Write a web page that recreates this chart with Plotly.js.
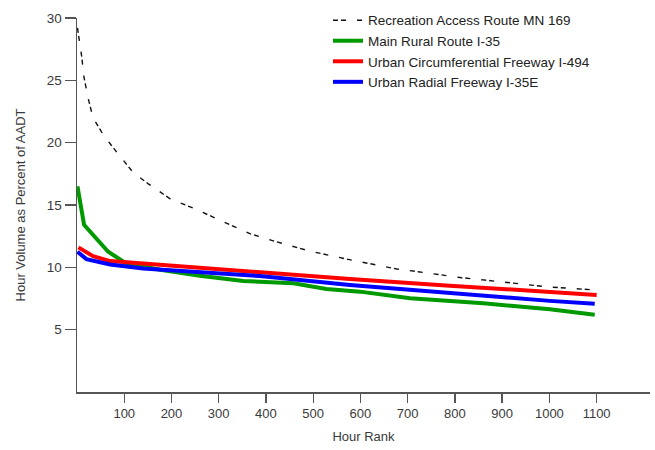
<!DOCTYPE html>
<html>
<head>
<meta charset="utf-8">
<script src="https://cdn.plot.ly/plotly-3.0.1.min.js"></script>
<style>html,body{margin:0;padding:0;background:#fff;}#chart{width:655px;height:450px;}</style>
</head>
<body>
<div id="chart"></div>
<script>
// Series names
const seriesNames = [
  "Recreation Access Route MN 169",
  "Main Rural Route I-35",
  "Urban Circumferential Freeway I-494",
  "Urban Radial Freeway I-35E"
];

// Recreation Access Route MN 169 (dashed)
const recX = [1, 10, 15, 24, 34, 56, 87, 119, 151, 197, 246, 296, 366, 423, 493, 585, 631, 677, 722, 768, 814, 860, 906, 952, 997, 1043, 1093];
const recY = [29.2, 26.9, 25.2, 23.5, 22.0, 20.6, 19.1, 17.6, 16.7, 15.5, 14.75, 13.9, 12.7, 12.04, 11.3, 10.55, 10.2, 9.87, 9.65, 9.38, 9.17, 8.99, 8.8, 8.64, 8.43, 8.32, 8.19];

// Main Rural Route I-35
const ruralX = [1, 15, 66, 105, 176, 260, 352, 458, 528, 599, 705, 860, 1001, 1096];
const ruralY = [16.5, 13.4, 11.25, 10.3, 9.8, 9.33, 8.9, 8.72, 8.27, 8.05, 7.52, 7.12, 6.64, 6.19];

// Urban Circumferential Freeway I-494
const circX = [3, 34, 70, 105, 246, 387, 578, 789, 1001, 1100];
const circY = [11.6, 10.9, 10.5, 10.4, 9.97, 9.6, 9.07, 8.53, 8.05, 7.79];

// Urban Radial Freeway I-35E
const radX = [1, 20, 70, 140, 246, 387, 578, 789, 1001, 1096];
const radY = [11.25, 10.66, 10.23, 9.9, 9.65, 9.3, 8.59, 7.92, 7.31, 7.07];

// Tick values / labels
const xTicks = [100, 200, 300, 400, 500, 600, 700, 800, 900, 1000, 1100];
const yTicks = [5, 10, 15, 20, 25, 30];

const FONT = "'Liberation Sans Narrow', 'Arial Narrow', 'Liberation Sans', Arial, sans-serif";
const TXT = "#3a3a3a";

const traces = [
  {x: recX, y: recY, name: seriesNames[0], mode: "lines", legendgroup: "a",
   line: {color: "#111111", width: 1.4, dash: "5px,3px,5px,11px"}},
  {x: ruralX, y: ruralY, name: seriesNames[1], mode: "lines", legendgroup: "b",
   line: {color: "#009a00", width: 4}},
  {x: circX, y: circY, name: seriesNames[2], mode: "lines", legendgroup: "c",
   line: {color: "#ff0000", width: 4}},
  {x: radX, y: radY, name: seriesNames[3], mode: "lines", legendgroup: "d",
   line: {color: "#0000ff", width: 4}}
];

const layout = {
  width: 655, height: 450,
  margin: {l: 77, r: 5, t: 15, b: 58},
  paper_bgcolor: "#ffffff", plot_bgcolor: "#ffffff",
  font: {family: FONT, size: 12, color: TXT},
  showlegend: true,
  legend: {
    x: 0.438, y: 1.035, xanchor: "left", yanchor: "top",
    bgcolor: "rgba(0,0,0,0)", borderwidth: 0,
    font: {family: FONT, size: 13.5, color: "#222"},
    tracegroupgap: 0
  },
  xaxis: {
    range: [0, 1213], tickvals: xTicks, ticktext: xTicks.map(String),
    showgrid: false, zeroline: false,
    showline: true, linecolor: "#555555", linewidth: 1.5,
    ticks: "outside", ticklen: 9, tickwidth: 1.3, tickcolor: "#555555",
    tickfont: {family: FONT, size: 13, color: TXT},
    title: {text: "Hour Rank", font: {family: FONT, size: 13, color: TXT}, standoff: 12},
    automargin: false
  },
  yaxis: {
    range: [0, 30], tickvals: yTicks, ticktext: yTicks.map(String),
    showgrid: false, zeroline: false,
    showline: true, linecolor: "#555555", linewidth: 1.5,
    ticks: "outside", ticklen: 11, tickwidth: 1.3, tickcolor: "#555555",
    tickfont: {family: FONT, size: 13.5, color: TXT},
    title: {text: "Hour Volume as Percent of AADT", font: {family: FONT, size: 13, color: TXT}, standoff: 18},
    automargin: false
  }
};

Plotly.newPlot("chart", traces, layout, {displayModeBar: false, staticPlot: true});
</script>
</body>
</html>
